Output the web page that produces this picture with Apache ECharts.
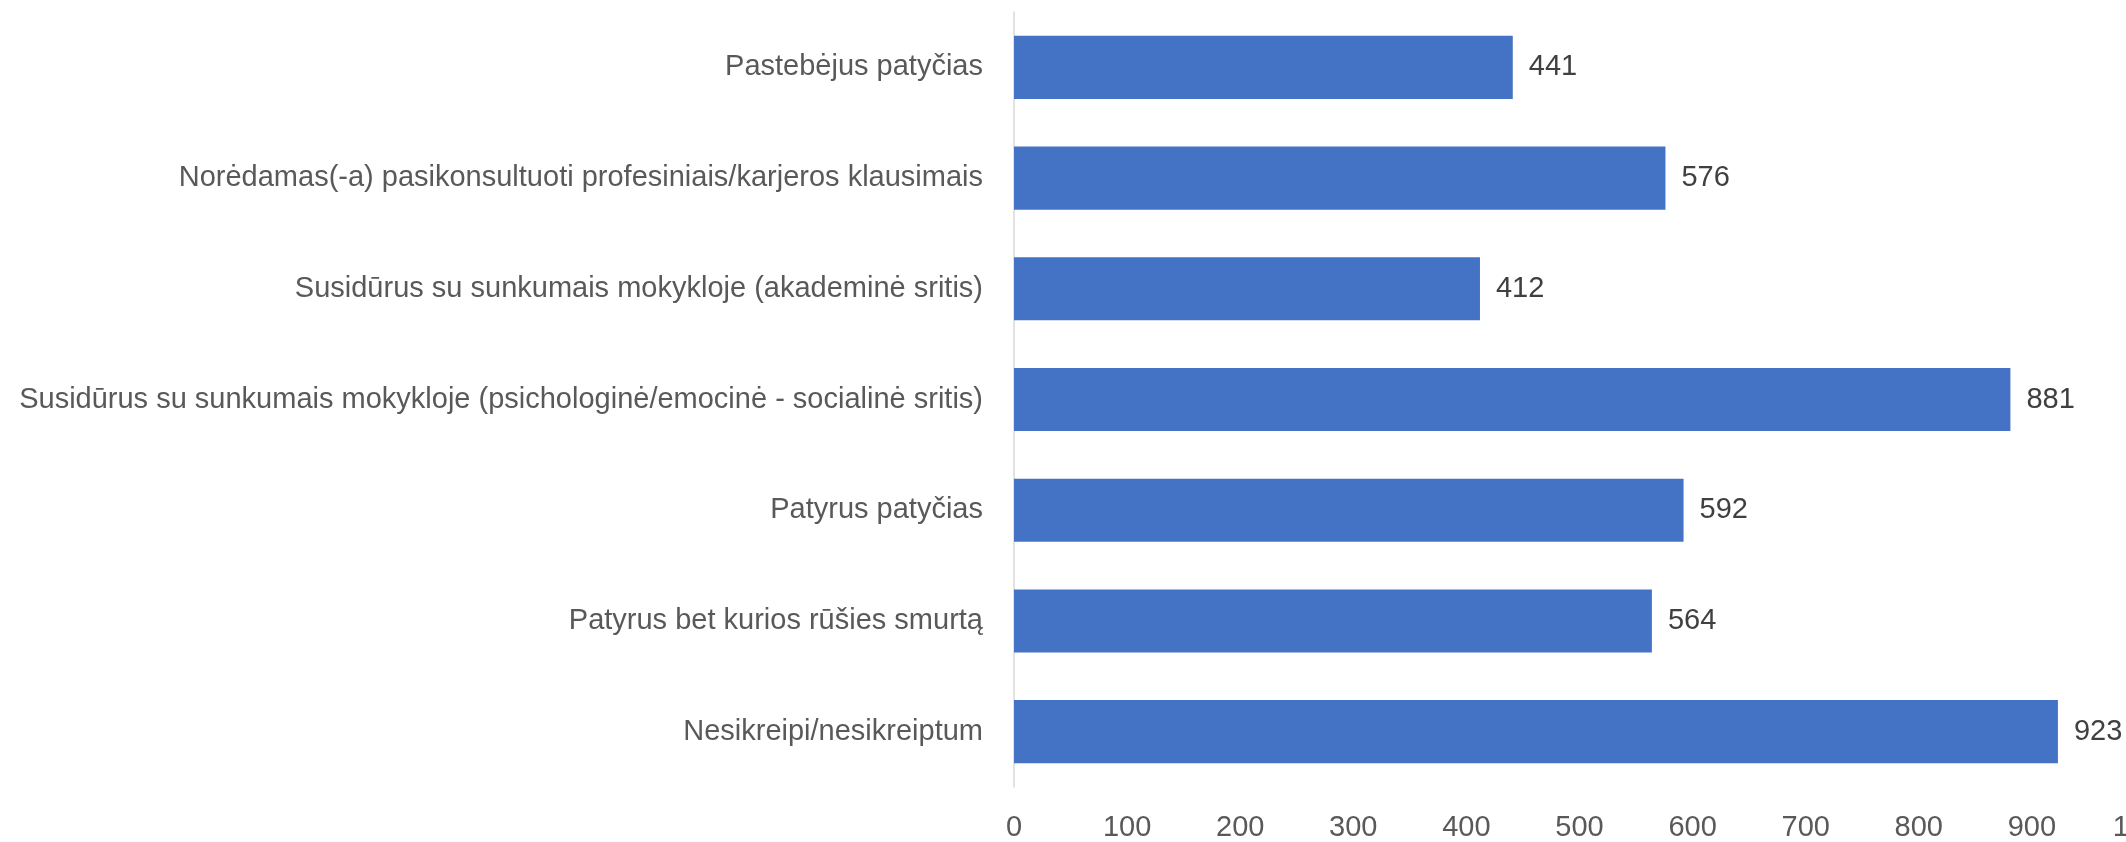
<!DOCTYPE html>
<html>
<head>
<meta charset="utf-8">
<script src="https://cdn.jsdelivr.net/npm/echarts@6/dist/echarts.min.js"></script>
<style>
  html, body { margin: 0; padding: 0; background: #fff; }
  #chart { width: 2126px; height: 842px; }
</style>
</head>
<body>
<div id="chart"></div>
<script>
// kategorijos (iš viršaus į apačią)
var categories = [
  'Pastebėjus patyčias',
  'Norėdamas(-a) pasikonsultuoti profesiniais/karjeros klausimais',
  'Susidūrus su sunkumais mokykloje (akademinė sritis)',
  'Susidūrus su sunkumais mokykloje (psichologinė/emocinė - socialinė sritis)',
  'Patyrus patyčias',
  'Patyrus bet kurios rūšies smurtą',
  'Nesikreipi/nesikreiptum'
];
var values = [441, 576, 412, 881, 592, 564, 923];
var axisMin = 0, axisMax = 1000, axisStep = 100;

var font = '"Liberation Sans Narrow", "Liberation Sans", sans-serif';

var myChart = echarts.init(document.getElementById('chart'));
myChart.setOption({
  backgroundColor: '#fff',
  animation: false,
  grid: {
    left: 1014,
    top: 12,
    right: -19,
    bottom: 55,
    containLabel: false,
    outerBoundsMode: 'none'
  },
  xAxis: {
    type: 'value',
    min: axisMin,
    max: axisMax,
    interval: axisStep,
    splitLine: { show: false },
    axisLine: { show: false },
    axisTick: { show: false },
    axisLabel: {
      color: '#595959',
      fontSize: 29,
      fontFamily: font,
      margin: 26,
      formatter: function (v) { return String(v); }
    }
  },
  yAxis: {
    type: 'category',
    inverse: true,
    data: categories,
    axisLine: {
      show: true,
      lineStyle: { color: '#d9d9d9', width: 1.5 }
    },
    axisTick: { show: false },
    axisLabel: {
      color: '#595959',
      fontSize: 29,
      fontFamily: font,
      margin: 31
    }
  },
  series: [
    {
      type: 'bar',
      data: values,
      barCategoryGap: '43%',
      itemStyle: { color: '#4472c4' },
      label: {
        show: true,
        position: 'right',
        distance: 16,
        color: '#404040',
        fontSize: 29,
        fontFamily: font
      }
    }
  ]
});
</script>
</body>
</html>
